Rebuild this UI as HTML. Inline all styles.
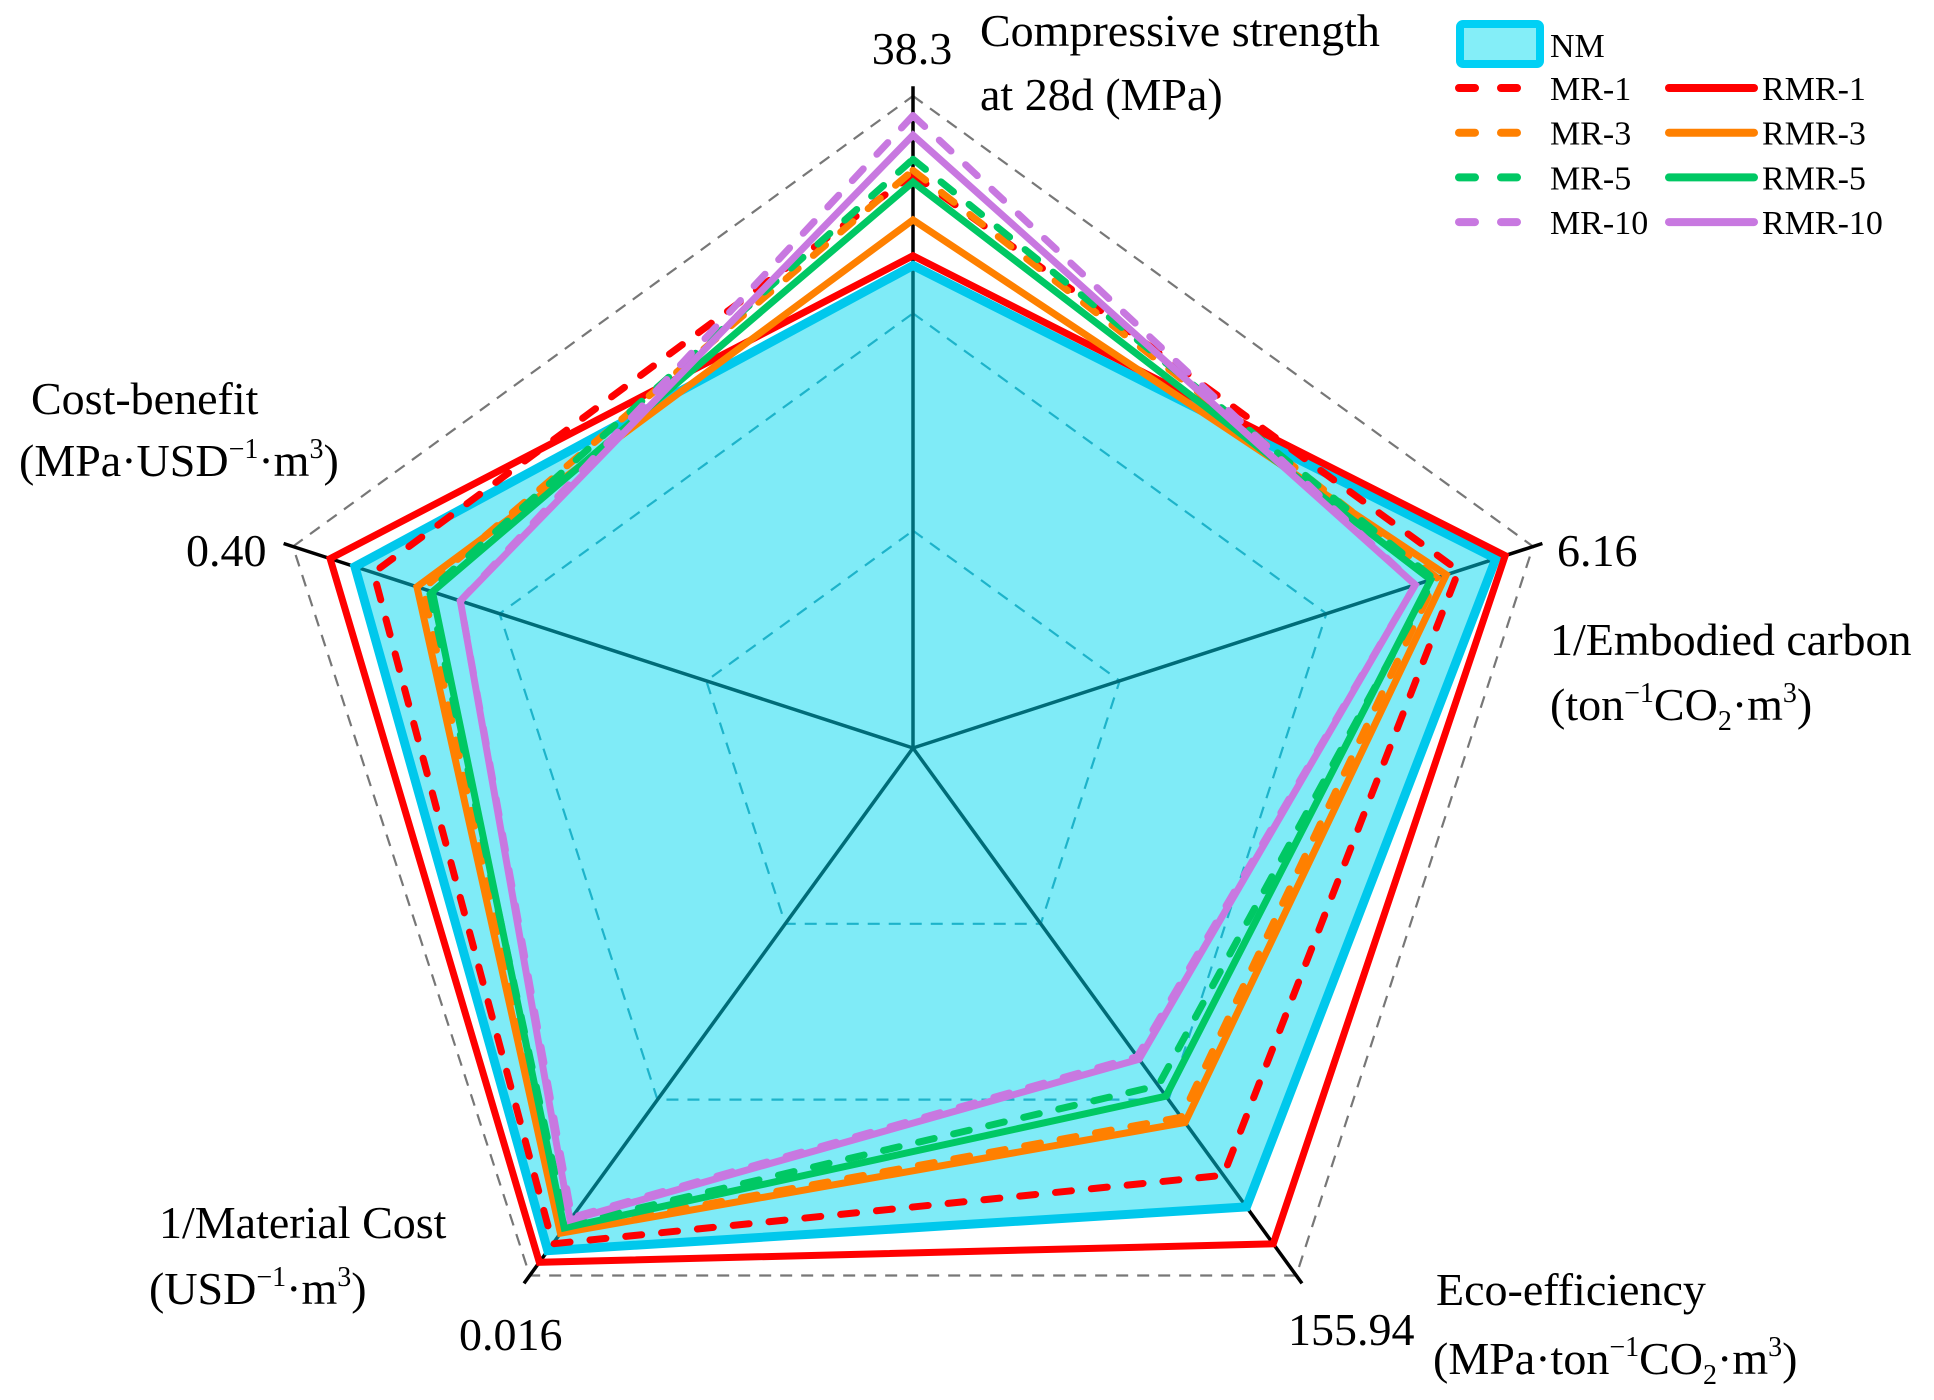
<!DOCTYPE html>
<html><head><meta charset="utf-8"><style>
body{margin:0;background:#fff}
svg{display:block;font-family:"Liberation Serif",serif}
</style></head><body>
<svg id="chart" width="1934" height="1400" viewBox="0 0 1934 1400" xmlns="http://www.w3.org/2000/svg">
<g id="grid"></g>
<g id="series"></g>
<g font-size="46" fill="#000">
<text x="912" y="64" text-anchor="middle">38.3</text>
<text x="980" y="46">Compressive strength</text>
<text x="980" y="110">at 28d (MPa)</text>
<text x="1557" y="566">6.16</text>
<text x="1550" y="655">1/Embodied carbon</text>
<text x="1550" y="720">(ton<tspan font-size="28" dy="-18">−1</tspan><tspan dy="18">CO</tspan><tspan font-size="28" dy="10">2</tspan><tspan dy="-10">·m</tspan><tspan font-size="28" dy="-18">3</tspan><tspan dy="18">)</tspan></text>
<text x="1288" y="1345">155.94</text>
<text x="1436" y="1305">Eco-efficiency</text>
<text x="1433" y="1374">(MPa·ton<tspan font-size="28" dy="-18">−1</tspan><tspan dy="18">CO</tspan><tspan font-size="28" dy="10">2</tspan><tspan dy="-10">·m</tspan><tspan font-size="28" dy="-18">3</tspan><tspan dy="18">)</tspan></text>
<text x="459" y="1350">0.016</text>
<text x="159" y="1238">1/Material Cost</text>
<text x="149" y="1304">(USD<tspan font-size="28" dy="-18">−1</tspan><tspan dy="18">·m</tspan><tspan font-size="28" dy="-18">3</tspan><tspan dy="18">)</tspan></text>
<text x="186" y="566">0.40</text>
<text x="31" y="414">Cost-benefit</text>
<text x="19" y="476">(MPa·USD<tspan font-size="28" dy="-18">−1</tspan><tspan dy="18">·m</tspan><tspan font-size="28" dy="-18">3</tspan><tspan dy="18">)</tspan></text>
</g>
<g id="legend" font-size="34"></g>
</svg>
<script>
const axes = ["Compressive strength","1/Embodied carbon","Eco-efficiency","1/Material Cost","Cost-benefit"];
const seriesNames = ["NM","RMR-1","MR-1","RMR-3","MR-3","RMR-5","MR-5","RMR-10","MR-10"];
const valNM    = [0.74,0.94,0.87,0.953,0.90];
const valRMR1  = [0.755,0.955,0.94,0.975,0.94];
const valMR1   = [0.88,0.88,0.81,0.94,0.87];
const valRMR3  = [0.81,0.86,0.71,0.92,0.80];
const valMR3   = [0.886,0.845,0.70,0.915,0.79];
const valRMR5  = [0.868,0.835,0.66,0.91,0.775];
const valMR5   = [0.903,0.84,0.64,0.905,0.78];
const valRMR10 = [0.94,0.81,0.59,0.895,0.73];
const valMR10  = [0.97,0.81,0.585,0.89,0.73];
const gridLevels = [1/3,2/3,1];

const NS="http://www.w3.org/2000/svg";
const cx=913, cy=748, R=652;
function pt(i,v){const a=-Math.PI/2+i*2*Math.PI/5;return [cx+R*v*Math.cos(a),cy+R*v*Math.sin(a)];}
function mk(tag,attrs,parent){const e=document.createElementNS(NS,tag);for(const k in attrs)e.setAttribute(k,attrs[k]);parent.appendChild(e);return e;}
function poly(vals){return vals.map((v,i)=>pt(i,v).join(",")).join(" ");}

const grid=document.getElementById("grid");
gridLevels.forEach((l,k)=>{
  const p=mk("polygon",{points:poly(axes.map(()=>l)),fill:"none",stroke:l===1?"#777":"#3a8fa5","stroke-width":2.2,"stroke-dasharray":"12 9"},grid);
  
  
});
axes.forEach((a,i)=>{
  const [x,y]=pt(i,1.015);
  const l=mk("line",{x1:cx,y1:cy,x2:x,y2:y,stroke:"#000","stroke-width":3.5},grid);
  
  
});

const ser=document.getElementById("series");
const nm=mk("polygon",{points:poly(valNM),fill:"rgba(0,215,240,0.5)",stroke:"#00c8ec","stroke-width":9,"stroke-linejoin":"miter"},ser);


const lines=[
 ["RMR-1",valRMR1,"#ff0000",false],["MR-1",valMR1,"#ff0000",true],
 ["RMR-3",valRMR3,"#ff8000",false],["MR-3",valMR3,"#ff8000",true],
 ["MR-5",valMR5,"#00c864",true],["RMR-5",valRMR5,"#00c864",false],
 ["MR-10",valMR10,"#c878e0",true],["RMR-10",valRMR10,"#c878e0",false]];
lines.forEach(([n,v,c,d])=>{
  const p=mk("polygon",{points:poly(v),fill:"none",stroke:c,"stroke-width":7,"stroke-linejoin":"miter","stroke-linecap":d?"round":"butt"},ser);
  if(d)p.setAttribute("stroke-dasharray","16 20");
  
  
});

const lg=document.getElementById("legend");
const box=mk("rect",{x:1460,y:24,width:80,height:40,rx:3,fill:"#84eef8",stroke:"#00d0f5","stroke-width":8},lg);


const t0=mk("text",{x:1550,y:57},lg);t0.textContent="NM";


const rows=[["MR-1","RMR-1","#ff0000"],["MR-3","RMR-3","#ff8000"],["MR-5","RMR-5","#00c864"],["MR-10","RMR-10","#c878e0"]];
rows.forEach(([a,b,c],k)=>{
  const y=88+k*44.7;
  const d=mk("line",{x1:1459,y1:y,x2:1520,y2:y,stroke:c,"stroke-width":8,"stroke-linecap":"round","stroke-dasharray":"16 26"},lg);
  
  
  const ta=mk("text",{x:1550,y:y+12},lg);ta.textContent=a;
  
  
  const s=mk("line",{x1:1669,y1:y,x2:1754,y2:y,stroke:c,"stroke-width":8,"stroke-linecap":"round"},lg);
  
  
  const tb=mk("text",{x:1762,y:y+12},lg);tb.textContent=b;
  
  
});
</script>
</body></html>
